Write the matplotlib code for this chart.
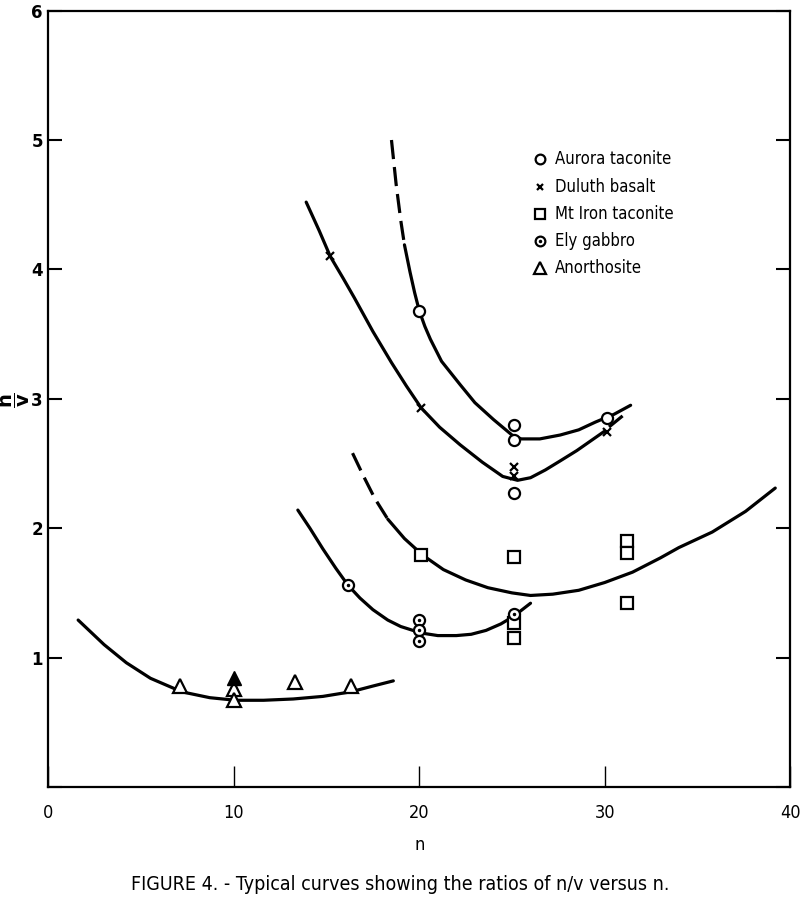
import numpy as np
import matplotlib
matplotlib.use('Agg')
import matplotlib.pyplot as plt
from matplotlib import font_manager as fm

# pick a narrow face if one is installed (the original uses a condensed typeface)
names = set(f.name for f in fm.fontManager.ttflist)
if 'Liberation Sans Narrow' in names:
    narrow = dict(family=['Liberation Sans Narrow', 'DejaVu Sans'])
else:
    narrow = dict(family=['DejaVu Sans'], stretch='condensed')
plt.rcParams['font.family'] = ['DejaVu Sans']

# Data points
aurora_n = [20.0, 25.1, 25.1, 25.1, 30.1]
aurora_v = [3.68, 2.80, 2.68, 2.27, 2.85]
duluth_n = [15.2, 20.1, 25.1, 25.1, 30.1]
duluth_v = [4.10, 2.93, 2.47, 2.40, 2.74]
mtiron_n = [20.1, 25.1, 25.1, 25.1, 31.2, 31.2, 31.2]
mtiron_v = [1.79, 1.78, 1.27, 1.15, 1.90, 1.81, 1.42]
ely_n = [16.15, 20.0, 20.0, 20.0, 25.1]
ely_v = [1.56, 1.29, 1.21, 1.13, 1.34]
anor_n = [7.1, 10.0, 10.0, 13.3, 16.3]
anor_v = [0.78, 0.76, 0.67, 0.81, 0.78]
anor_fill_n = [10.0]
anor_fill_v = [0.84]

# Hand drawn curves
c1_dash_n = [18.5, 18.75, 19.0, 19.2]
c1_dash_v = [5.00, 4.66, 4.38, 4.19]
c1_n = [19.2, 19.5, 19.75, 20.0, 20.3, 20.6, 21.2, 22.2, 23.0, 24.0, 25.0, 25.5, 26.5, 27.6, 28.6, 29.5, 30.5, 31.4]
c1_v = [4.19, 3.98, 3.82, 3.68, 3.56, 3.46, 3.29, 3.11, 2.97, 2.84, 2.72, 2.69, 2.69, 2.72, 2.76, 2.82, 2.88, 2.95]

c2_n = [13.9, 14.6, 15.2, 15.9, 16.5, 17.5, 18.5, 19.3, 20.1, 21.1, 22.2, 23.4, 24.5, 25.3, 26.0, 26.8, 27.6, 28.5, 29.4, 30.0]
c2_v = [4.52, 4.30, 4.10, 3.93, 3.78, 3.52, 3.28, 3.10, 2.93, 2.78, 2.645, 2.51, 2.40, 2.37, 2.39, 2.45, 2.52, 2.60, 2.69, 2.75]
c2_end_n = [30.3, 30.9]
c2_end_v = [2.79, 2.86]

c3_dash_n = [16.4, 17.0, 17.6, 18.3]
c3_dash_v = [2.58, 2.40, 2.23, 2.07]
c3_n = [18.3, 19.2, 20.2, 21.3, 22.5, 23.7, 25.0, 26.0, 27.2, 28.6, 30.0, 31.5, 33.0, 34.0, 35.8, 37.6, 39.2]
c3_v = [2.07, 1.92, 1.79, 1.68, 1.60, 1.54, 1.50, 1.48, 1.49, 1.52, 1.58, 1.66, 1.77, 1.85, 1.97, 2.13, 2.31]

c4_n = [13.45, 14.1, 14.8, 15.5, 16.15, 16.8, 17.5, 18.3, 19.0, 20.1, 21.0, 22.0, 22.8, 23.6, 24.4, 25.1, 26.0]
c4_v = [2.14, 2.00, 1.84, 1.69, 1.56, 1.46, 1.37, 1.29, 1.24, 1.19, 1.17, 1.17, 1.18, 1.21, 1.26, 1.32, 1.42]

c5_n = [1.6, 3.0, 4.2, 5.5, 7.2, 8.7, 10.1, 11.6, 13.2, 14.8, 16.3, 17.5, 18.6]
c5_v = [1.29, 1.10, 0.96, 0.84, 0.735, 0.69, 0.67, 0.67, 0.68, 0.70, 0.735, 0.78, 0.82]

legend_labels = ['Aurora taconite', 'Duluth basalt', 'Mt Iron taconite', 'Ely gabbro', 'Anorthosite']
legend_y = [4.85, 4.64, 4.43, 4.22, 4.01]

fig = plt.figure(figsize=(8, 9.08), dpi=100)
ax = fig.add_axes([0.0606, 0.1333, 0.927, 0.855])

lw = 2.3
ax.plot(c1_dash_n, c1_dash_v, color='black', lw=lw, dashes=(6, 2.5))
ax.plot(c1_n, c1_v, color='black', lw=lw, solid_capstyle='round')
ax.plot(c2_n, c2_v, color='black', lw=lw, solid_capstyle='round')
ax.plot(c2_end_n, c2_end_v, color='black', lw=lw)
ax.plot(c3_dash_n, c3_dash_v, color='black', lw=lw, dashes=(6, 2.5))
ax.plot(c3_n, c3_v, color='black', lw=lw, solid_capstyle='round')
ax.plot(c4_n, c4_v, color='black', lw=lw, solid_capstyle='round')
ax.plot(c5_n, c5_v, color='black', lw=lw, solid_capstyle='round')

mk = dict(color='black', mfc='white', mec='black', mew=1.6, ls='none', zorder=5)
ax.plot(aurora_n, aurora_v, marker='o', ms=8, **mk)
ax.plot(duluth_n, duluth_v, marker='x', ms=6, ls='none', color='black', mew=1.6, zorder=5)
ax.plot(mtiron_n, mtiron_v, marker='s', ms=8, **mk)
ax.plot(ely_n, ely_v, marker='o', ms=8, **mk)
ax.plot(ely_n, ely_v, marker='.', ms=3, ls='none', color='black', zorder=6)
ax.plot(anor_n, anor_v, marker='^', ms=10, **mk)
ax.plot(anor_fill_n, anor_fill_v, marker='^', ms=10, ls='none', color='black', zorder=6)

# legend drawn by hand like the original
lx, tx = 26.5, 27.3
ax.plot(lx, legend_y[0], marker='o', ms=7, **mk)
ax.plot(lx, legend_y[1], marker='x', ms=5, ls='none', color='black', mew=1.6)
ax.plot(lx, legend_y[2], marker='s', ms=7, **mk)
ax.plot(lx, legend_y[3], marker='o', ms=7, **mk)
ax.plot(lx, legend_y[3], marker='.', ms=3, ls='none', color='black', zorder=6)
ax.plot(lx, legend_y[4], marker='^', ms=9, **mk)
for lab, yy in zip(legend_labels, legend_y):
    ax.text(tx, yy, lab, fontsize=12, va='center', ha='left', **narrow)

ax.set_xlim(0, 40)
ax.set_ylim(0, 6)
ax.set_xticks([0, 10, 20, 30, 40])
ax.set_xticklabels(['0', '10', '20', '30', '40'], fontsize=13, **narrow)
ax.set_yticks([0, 1, 2, 3, 4, 5, 6])
ax.set_yticklabels(['', '1', '2', '3', '4', '5', '6'], fontweight='bold', fontsize=12)
ax.tick_params(axis='y', direction='in', length=10, width=1.5, right=True, pad=4)
ax.tick_params(axis='x', direction='in', length=15, width=1.0, pad=12)
for s in ax.spines.values():
    s.set_linewidth(1.6)

ax.set_xlabel('n', fontsize=13, labelpad=10, **narrow)
fig.text(16 / 800, 1 - 400 / 908, r'$\mathbf{\dfrac{n}{v}}$', rotation=90, fontsize=14,
         ha='center', va='center')

fig.text(0.5, 1 - 884 / 908, 'FIGURE 4. - Typical curves showing the ratios of n/v versus n.',
         fontsize=14, ha='center', va='center', **narrow)

fig.savefig('out.png', dpi=100)
print('Plot done')
